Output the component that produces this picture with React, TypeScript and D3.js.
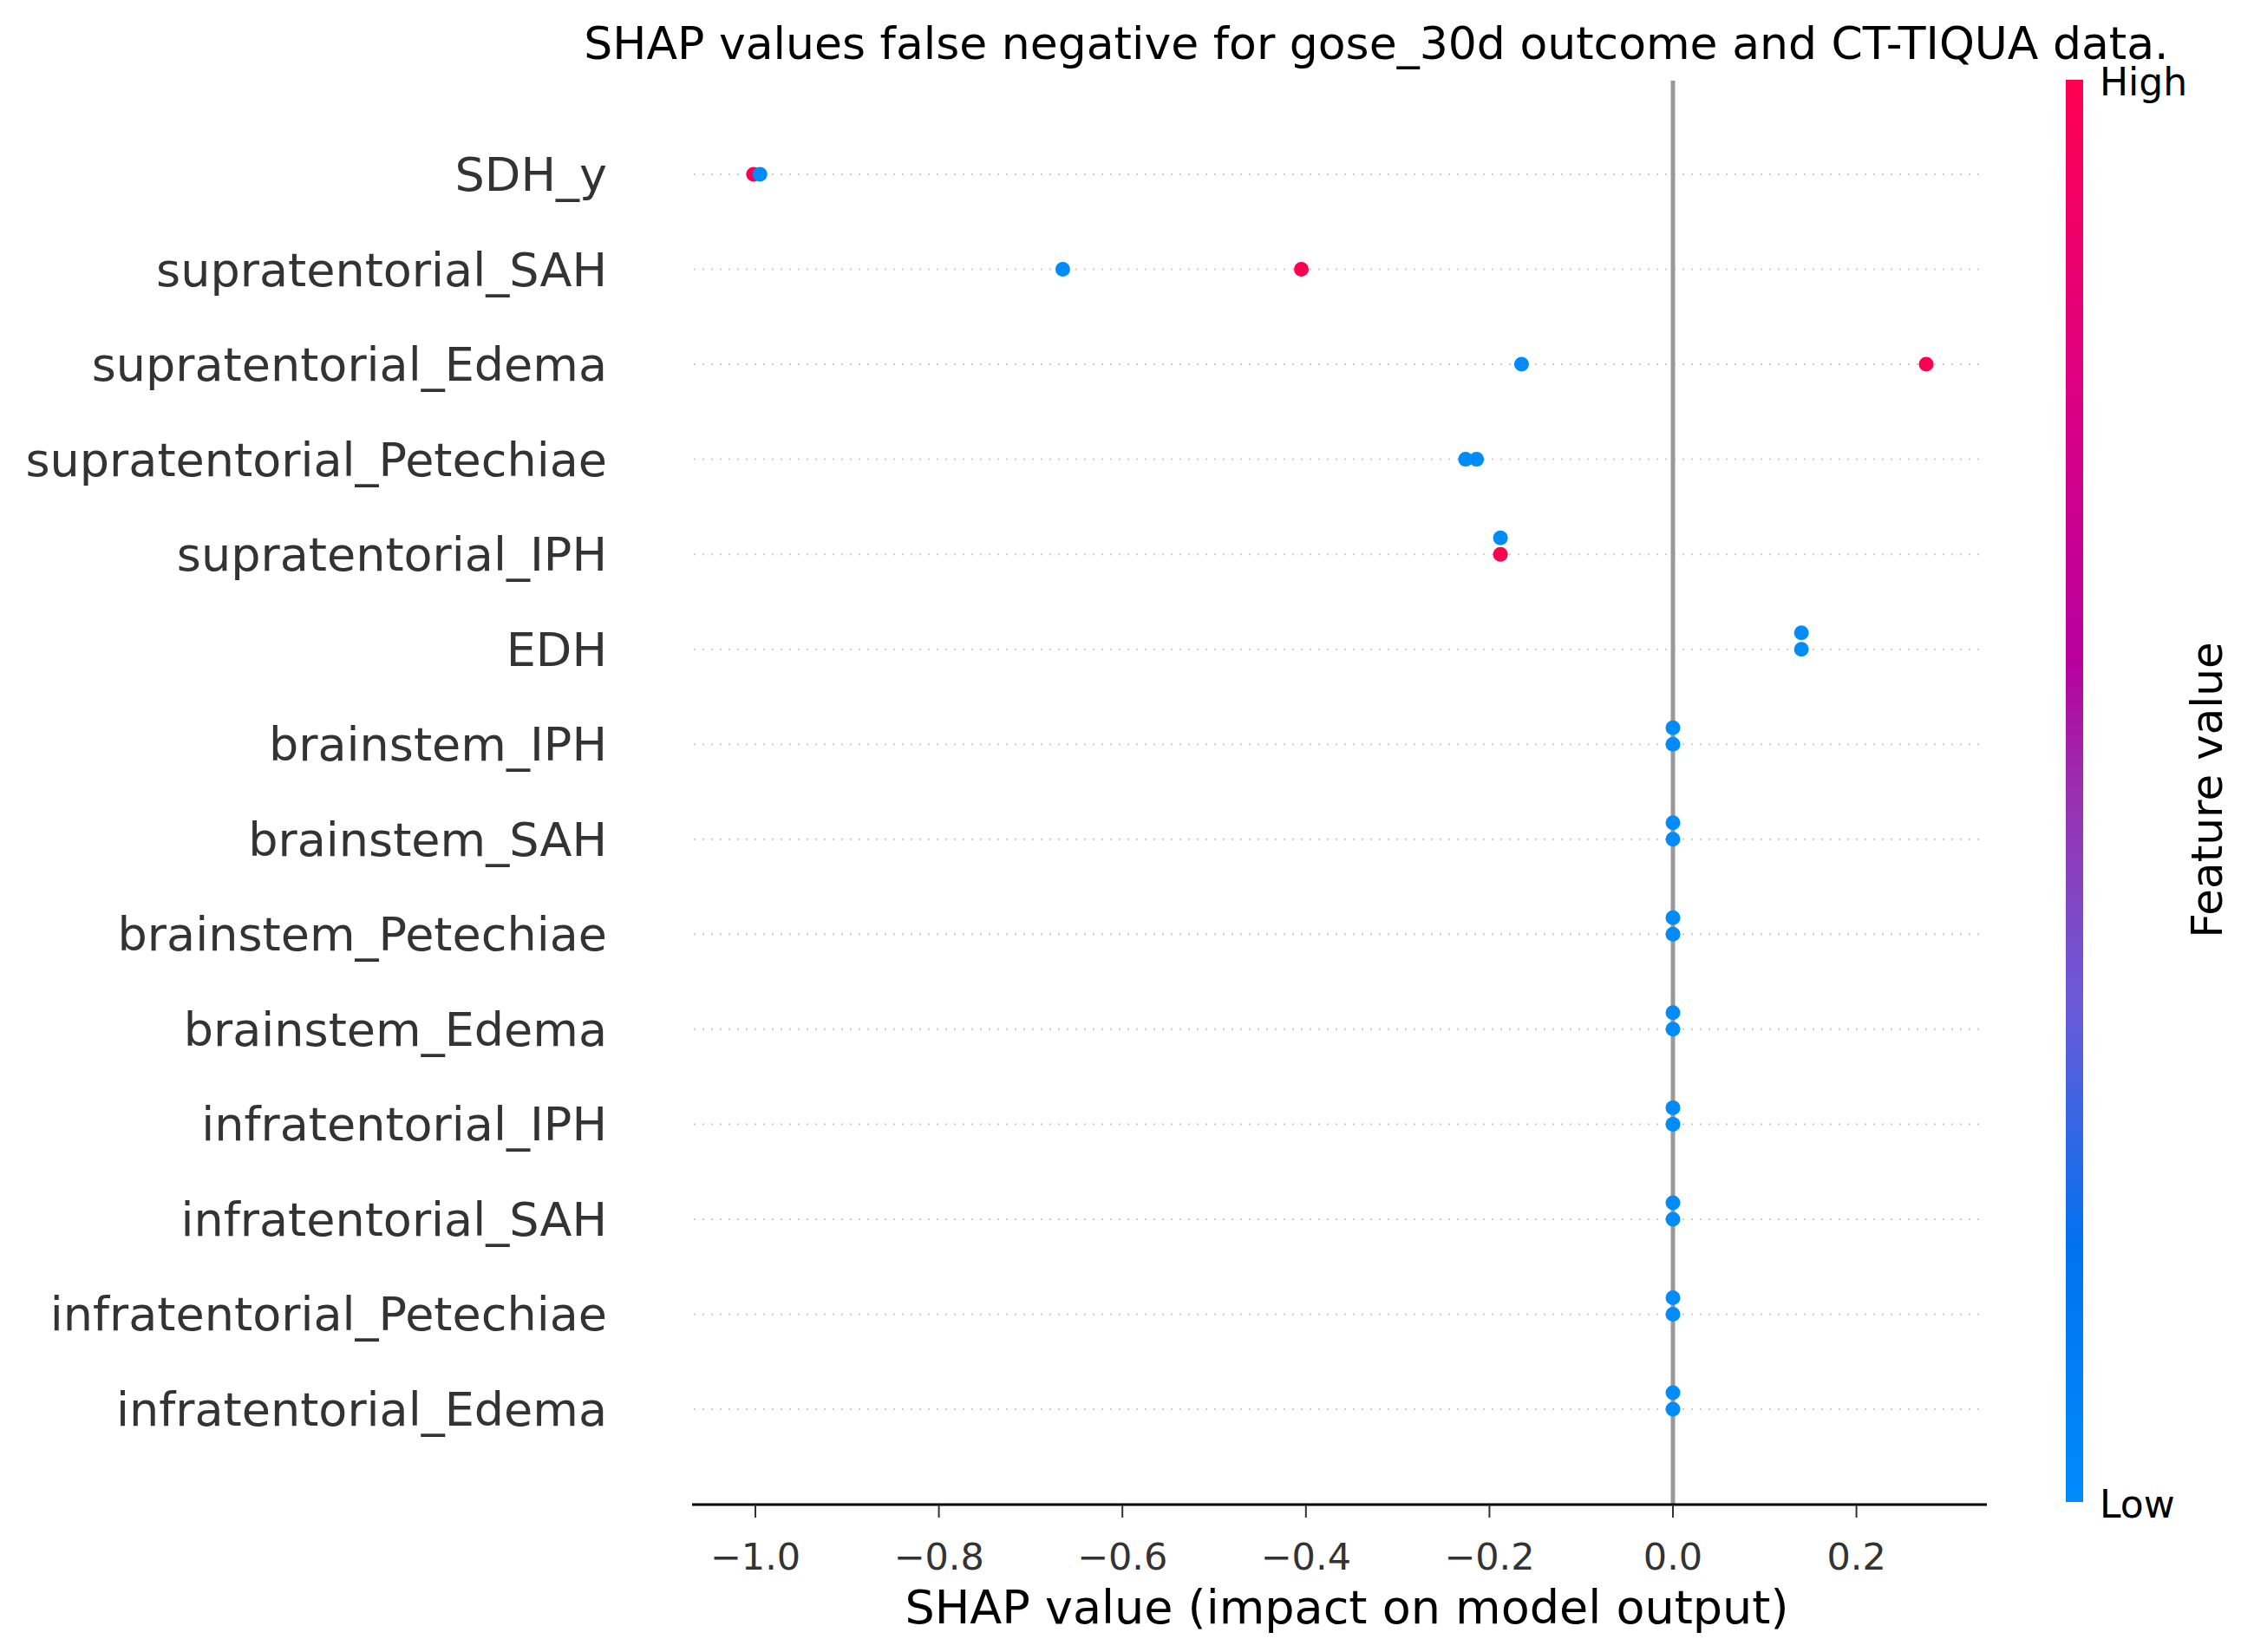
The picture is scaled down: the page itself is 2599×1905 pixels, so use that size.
import * as d3 from "d3";

const features = [
  "SDH_y", "supratentorial_SAH", "supratentorial_Edema", "supratentorial_Petechiae",
  "supratentorial_IPH", "EDH", "brainstem_IPH", "brainstem_SAH", "brainstem_Petechiae",
  "brainstem_Edema", "infratentorial_IPH", "infratentorial_SAH",
  "infratentorial_Petechiae", "infratentorial_Edema",
];
// SHAP value of each sample, per feature
const shapValues: number[][] = [
  [-1.002, -0.995], [-0.665, -0.405], [-0.165, 0.276], [-0.226, -0.214],
  [-0.188, -0.188], [0.14, 0.14], [0, 0], [0, 0], [0, 0], [0, 0], [0, 0], [0, 0], [0, 0], [0, 0],
];
// feature value: 1 = high, 0 = low
const featureHigh: number[][] = [
  [1, 0], [0, 1], [0, 1], [0, 0], [0, 1], [0, 0], [0, 0], [0, 0], [0, 0], [0, 0], [0, 0], [0, 0], [0, 0], [0, 0],
];
// beeswarm row offset
const swarm: number[][] = [
  [0, 0], [0, 0], [0, 0], [0, 0], [-1, 0], [-1, 0], [-1, 0], [-1, 0], [-1, 0], [-1, 0], [-1, 0], [-1, 0], [-1, 0], [-1, 0],
];
const ticks = [-1.0, -0.8, -0.6, -0.4, -0.2, 0.0, 0.2];

const W = 2599, H = 1905;
const FONT = "DejaVu Sans";
const BLUE = "#008bfb", RED = "#ff0051";

export default function App() {
  const x = d3.scaleLinear().domain([-1, 0]).range([871, 1929]);
  const y = d3.scalePoint<string>().domain(features).range([201, 1625]);
  const fmt = (v: number) => (v < 0 ? "\u2212" : "") + Math.abs(v).toFixed(1);
  const stops = [
    [0, BLUE], [0.18, "#0072f0"], [0.35, "#6a5ad8"], [0.5, "#9a2fb0"],
    [0.59, "#b800a0"], [0.8, "#e0007f"], [1, RED],
  ] as [number, string][];
  return (
    <svg width={W} height={H} style={{ display: "block", marginTop: -8, marginLeft: -8 }} fontFamily={FONT}>
      <defs>
        <linearGradient id="cb" x1="0" y1="1" x2="0" y2="0">
          {stops.map(([o, c]) => <stop key={o} offset={o} stopColor={c} />)}
        </linearGradient>
      </defs>
      <rect width={W} height={H} fill="#fff" />
      <text x={1587} y={68} textAnchor="middle" fontSize={52} fill="#000">
        SHAP values false negative for gose_30d outcome and CT-TIQUA data.
      </text>
      {features.map((f) => (
        <g key={f}>
          <line x1={800} x2={2290} y1={y(f)} y2={y(f)} stroke="#ccc" strokeWidth={2} strokeDasharray="2,8" />
          <text x={700} y={y(f)! + 19} textAnchor="end" fontSize={54} fill="#333">{f}</text>
        </g>
      ))}
      <line x1={x(0)} x2={x(0)} y1={93} y2={1735} stroke="#999" strokeWidth={5} />
      {features.map((f, i) =>
        shapValues[i].map((v, j) => (
          <ellipse key={f + j} cx={x(v)} cy={y(f)! + swarm[i][j] * 19} rx={8.5} ry={8.5}
            fill={featureHigh[i][j] ? RED : BLUE} />
        ))
      )}
      <line x1={798} x2={2291} y1={1735} y2={1735} stroke="#000" strokeWidth={3} />
      {ticks.map((t) => (
        <g key={t}>
          <line x1={x(t)} x2={x(t)} y1={1735} y2={1750} stroke="#333" strokeWidth={2} />
          <text x={x(t)} y={1810} textAnchor="middle" fontSize={43} fill="#333">{fmt(t)}</text>
        </g>
      ))}
      <text x={1553} y={1872} textAnchor="middle" fontSize={54} fill="#000">
        SHAP value (impact on model output)
      </text>
      <rect x={2382} y={92} width={20} height={1640} fill="url(#cb)" />
      <text x={2421} y={110} fontSize={44} fill="#000">High</text>
      <text x={2421} y={1750} fontSize={44} fill="#000">Low</text>
      <text transform="translate(2562,911) rotate(-90)" textAnchor="middle" fontSize={50} fill="#000">
        Feature value
      </text>
    </svg>
  );
}
